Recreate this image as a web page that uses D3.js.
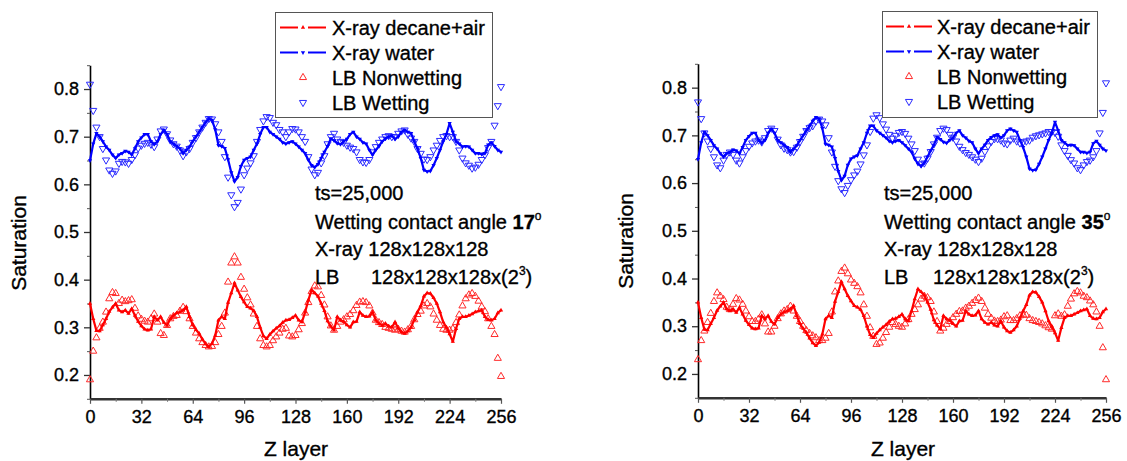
<!DOCTYPE html>
<html><head><meta charset="utf-8">
<script src="https://cdn.jsdelivr.net/npm/d3@7"></script>
<style>
body{margin:0;background:#fff}
svg{display:block}
text{font-family:"Liberation Sans",Arial,Helvetica,sans-serif;fill:#000;stroke:#000;stroke-width:0.35px}
</style>
</head><body>
<svg id="chart" width="1127" height="461"></svg>
<script>
// ---------- data ----------
const zXray = d3.range(0, 257, 2);   // X-ray slices (128^3 -> every 2nd Z layer)
const zLB   = d3.range(0, 257, 2);   // LB layers shown

const xrayDecaneAir = [
0.350,0.318,0.293,0.292,0.305,0.318,0.333,0.342,
0.350,0.336,0.332,0.336,0.329,0.339,0.325,0.312,
0.303,0.296,0.294,0.296,0.322,0.315,0.322,0.310,
0.304,0.318,0.325,0.330,0.332,0.336,0.343,0.322,
0.305,0.295,0.287,0.275,0.265,0.259,0.266,0.283,
0.315,0.322,0.318,0.352,0.372,0.393,0.378,0.364,
0.353,0.343,0.340,0.335,0.322,0.300,0.282,0.276,
0.285,0.292,0.298,0.303,0.310,0.315,0.316,0.320,
0.325,0.315,0.311,0.332,0.357,0.378,0.372,0.365,
0.350,0.335,0.313,0.302,0.294,0.322,0.315,0.312,
0.305,0.300,0.311,0.312,0.332,0.325,0.322,0.323,
0.332,0.315,0.308,0.304,0.308,0.302,0.300,0.311,
0.298,0.290,0.287,0.292,0.300,0.316,0.332,0.345,
0.365,0.372,0.371,0.362,0.350,0.332,0.311,0.300,
0.286,0.270,0.297,0.318,0.322,0.322,0.325,0.328,
0.332,0.334,0.336,0.322,0.316,0.315,0.318,0.330,
0.336];

const xrayWater = [
0.650,0.685,0.707,0.700,0.690,0.679,0.672,0.662,
0.655,0.662,0.665,0.670,0.668,0.662,0.675,0.690,
0.698,0.705,0.705,0.690,0.684,0.690,0.705,0.714,
0.705,0.690,0.685,0.680,0.675,0.665,0.672,0.679,
0.690,0.700,0.710,0.720,0.730,0.738,0.735,0.715,
0.682,0.680,0.676,0.652,0.625,0.606,0.615,0.638,
0.651,0.655,0.658,0.672,0.685,0.705,0.720,0.720,
0.710,0.705,0.700,0.695,0.688,0.685,0.688,0.690,
0.685,0.679,0.672,0.665,0.651,0.640,0.636,0.642,
0.655,0.668,0.680,0.696,0.692,0.686,0.684,0.690,
0.695,0.705,0.710,0.700,0.695,0.688,0.685,0.672,
0.662,0.672,0.680,0.690,0.696,0.700,0.702,0.695,
0.700,0.710,0.714,0.710,0.707,0.690,0.675,0.655,
0.630,0.627,0.628,0.640,0.655,0.672,0.690,0.705,
0.728,0.710,0.690,0.685,0.679,0.680,0.679,0.672,
0.665,0.665,0.663,0.665,0.683,0.688,0.680,0.672,
0.668];

const lbWetting17 = [
0.810,0.755,0.720,0.700,0.675,0.651,0.630,0.623,
0.628,0.644,0.648,0.647,0.644,0.652,0.662,0.676,
0.682,0.686,0.688,0.684,0.679,0.695,0.712,0.716,
0.706,0.693,0.685,0.680,0.672,0.660,0.668,0.675,
0.688,0.698,0.710,0.720,0.730,0.738,0.737,0.727,
0.710,0.690,0.658,0.615,0.578,0.553,0.562,0.590,
0.620,0.634,0.645,0.660,0.690,0.715,0.733,0.742,
0.740,0.730,0.725,0.715,0.710,0.700,0.710,0.717,
0.716,0.710,0.700,0.690,0.658,0.632,0.620,0.625,
0.645,0.660,0.685,0.700,0.707,0.695,0.690,0.688,
0.682,0.678,0.675,0.668,0.652,0.647,0.646,0.652,
0.668,0.679,0.688,0.695,0.700,0.702,0.700,0.700,
0.707,0.712,0.714,0.705,0.697,0.690,0.675,0.665,
0.653,0.652,0.658,0.672,0.682,0.692,0.700,0.702,
0.700,0.700,0.690,0.672,0.655,0.645,0.640,0.634,
0.636,0.642,0.652,0.662,0.677,0.690,0.724,0.765,
0.805];

const lbNonwetting17 = [
0.190,0.250,0.278,0.298,0.311,0.332,0.360,0.373,
0.371,0.350,0.357,0.354,0.356,0.358,0.340,0.324,
0.317,0.313,0.311,0.318,0.328,0.311,0.287,0.283,
0.304,0.318,0.323,0.325,0.334,0.342,0.333,0.318,
0.302,0.288,0.276,0.268,0.262,0.259,0.260,0.268,
0.285,0.302,0.330,0.395,0.435,0.448,0.435,0.405,
0.380,0.362,0.347,0.328,0.302,0.276,0.262,0.259,
0.262,0.272,0.280,0.288,0.296,0.298,0.282,0.280,
0.283,0.295,0.308,0.330,0.352,0.375,0.387,0.385,
0.367,0.347,0.322,0.303,0.294,0.302,0.311,0.316,
0.322,0.327,0.335,0.346,0.353,0.354,0.352,0.345,
0.330,0.315,0.310,0.306,0.300,0.298,0.296,0.294,
0.296,0.292,0.290,0.295,0.302,0.316,0.327,0.334,
0.345,0.350,0.343,0.328,0.315,0.304,0.296,0.294,
0.294,0.297,0.310,0.326,0.345,0.360,0.368,0.371,
0.365,0.355,0.343,0.333,0.318,0.302,0.285,0.235,
0.197];

const lbWetting35 = [
0.770,0.735,0.705,0.688,0.672,0.655,0.638,0.632,
0.648,0.660,0.665,0.660,0.648,0.642,0.655,0.668,
0.677,0.684,0.688,0.690,0.686,0.695,0.710,0.715,
0.710,0.692,0.680,0.673,0.670,0.665,0.666,0.675,
0.687,0.698,0.710,0.716,0.720,0.730,0.734,0.730,
0.722,0.695,0.665,0.635,0.605,0.588,0.580,0.595,
0.607,0.617,0.625,0.640,0.659,0.680,0.708,0.736,
0.743,0.737,0.724,0.713,0.702,0.694,0.700,0.706,
0.708,0.704,0.694,0.682,0.668,0.650,0.640,0.642,
0.652,0.666,0.682,0.696,0.710,0.715,0.712,0.702,
0.696,0.688,0.677,0.670,0.664,0.660,0.655,0.650,
0.645,0.652,0.666,0.678,0.687,0.693,0.693,0.690,
0.684,0.682,0.690,0.694,0.688,0.684,0.686,0.688,
0.690,0.696,0.699,0.701,0.703,0.705,0.708,0.708,
0.706,0.698,0.680,0.668,0.658,0.649,0.642,0.632,
0.628,0.638,0.645,0.648,0.655,0.668,0.705,0.748,
0.810];

const lbNonwetting35 = [
0.230,0.270,0.290,0.308,0.327,0.352,0.370,0.363,
0.356,0.340,0.335,0.346,0.358,0.355,0.346,0.332,
0.320,0.310,0.310,0.315,0.324,0.305,0.288,0.288,
0.300,0.316,0.326,0.332,0.335,0.342,0.332,0.321,
0.310,0.300,0.291,0.285,0.280,0.276,0.270,0.270,
0.275,0.285,0.330,0.372,0.395,0.415,0.422,0.410,
0.397,0.390,0.383,0.370,0.345,0.321,0.297,0.279,
0.262,0.265,0.275,0.287,0.298,0.308,0.304,0.300,
0.298,0.305,0.314,0.325,0.335,0.345,0.357,0.363,
0.360,0.352,0.330,0.310,0.290,0.296,0.304,0.310,
0.318,0.325,0.331,0.332,0.338,0.342,0.348,0.354,
0.359,0.352,0.338,0.325,0.317,0.311,0.310,0.313,
0.320,0.322,0.312,0.312,0.316,0.322,0.324,0.323,
0.316,0.312,0.310,0.308,0.305,0.301,0.297,0.294,
0.322,0.326,0.321,0.324,0.342,0.357,0.368,0.373,
0.370,0.363,0.360,0.353,0.345,0.330,0.300,0.255,
0.188];

const xTicks = [0, 32, 64, 96, 128, 160, 192, 224, 256];
const xMinorTicks = [16, 48, 80, 112, 144, 176, 208, 240];
const yTicks = [0.2, 0.3, 0.4, 0.5, 0.6, 0.7, 0.8];
const yMinorTicks = [0.15, 0.25, 0.35, 0.45, 0.55, 0.65, 0.75, 0.85];
const legendLabels = ["X-ray decane+air", "X-ray water", "LB Nonwetting", "LB Wetting"];
const contactAngles = ["17", "35"];

// ---------- layout ----------
const RED = "#ff0000", BLUE = "#0000ff", LBRED = "#ff2a2a", LBBLUE = "#2a2aff";
const svg = d3.select("#chart");

const panels = [
  {x0: 90, x1: 501, yb: 398.8, yt: 65.2, nonwet: lbNonwetting17, wet: lbWetting17, angle: contactAngles[0],
   leg: {x: 275.5, y: 12.5, w: 217, h: 105, sx: 280, tx: 332},
   ann: {x: 315, x2: 371}, ylab: {x: 26, y: 243}, xlab: {x: 296, y: 456}},
  {x0: 698, x1: 1106, yb: 397.8, yt: 63.8, nonwet: lbNonwetting35, wet: lbWetting35, angle: contactAngles[1],
   leg: {x: 882.5, y: 11.5, w: 215, h: 106, sx: 886, tx: 937},
   ann: {x: 884, x2: 933}, ylab: {x: 633, y: 241}, xlab: {x: 903, y: 456}}
];

const triUp = d3.symbol().type(d3.symbolTriangle).size(22);
const triSmall = d3.symbol().type(d3.symbolTriangle).size(8);

panels.forEach(p => {
  const x = d3.scaleLinear().domain([0, 256]).range([p.x0, p.x1]);
  const y = d3.scaleLinear().domain([0.15, 0.85]).range([p.yb, p.yt]);
  const g = svg.append("g");

  // axes
  const yAxis = g.append("g").attr("transform", `translate(${p.x0},0)`)
    .call(d3.axisLeft(y).tickValues(yTicks).tickFormat(d3.format(".1f")).tickSize(6).tickSizeOuter(0).tickPadding(5));
  yAxis.select(".domain").attr("stroke", "#000").attr("stroke-width", 1.6);
  yAxis.selectAll(".tick line").attr("stroke", "#333").attr("stroke-width", 1.3);
  yAxis.selectAll("text").style("font-size", "18px");
  g.append("g").attr("transform", `translate(${p.x0},0)`)
    .call(d3.axisLeft(y).tickValues(yMinorTicks).tickFormat("").tickSize(3).tickSizeOuter(0))
    .call(s => { s.select(".domain").remove(); s.selectAll("line").attr("stroke", "#555"); });

  const xAxis = g.append("g").attr("transform", `translate(0,${p.yb})`)
    .call(d3.axisBottom(x).tickValues(xTicks).tickSize(5).tickSizeOuter(0).tickPadding(6));
  xAxis.select(".domain").attr("stroke", "#333").attr("stroke-width", 2.6);
  xAxis.selectAll(".tick line").attr("stroke", "#555").attr("stroke-width", 1.2);
  xAxis.selectAll("text").style("font-size", "18px");
  g.append("g").attr("transform", `translate(0,${p.yb})`)
    .call(d3.axisBottom(x).tickValues(xMinorTicks).tickFormat("").tickSize(3).tickSizeOuter(0))
    .call(s => { s.select(".domain").remove(); s.selectAll("line").attr("stroke", "#777"); });

  // axis titles
  g.append("text").attr("transform", `translate(${p.ylab.x},${p.ylab.y}) rotate(-90)`)
    .attr("text-anchor", "middle").style("font-size", "21px").text("Saturation");
  g.append("text").attr("x", p.xlab.x).attr("y", p.xlab.y)
    .attr("text-anchor", "middle").style("font-size", "21px").text("Z layer");

  // LB markers (hollow triangles)
  g.append("g").selectAll("path").data(zLB.map((z, i) => [z, p.nonwet[i]])).join("path")
    .attr("d", triUp).attr("transform", d => `translate(${x(d[0])},${y(d[1])})`)
    .attr("fill", "none").attr("stroke", LBRED).attr("stroke-width", 1);
  g.append("g").selectAll("path").data(zLB.map((z, i) => [z, p.wet[i]])).join("path")
    .attr("d", triUp).attr("transform", d => `translate(${x(d[0])},${y(d[1])}) rotate(180)`)
    .attr("fill", "none").attr("stroke", LBBLUE).attr("stroke-width", 1);

  // X-ray lines with small markers
  const line = d3.line().x(d => x(d[0])).y(d => y(d[1]));
  [[xrayDecaneAir, RED, 0], [xrayWater, BLUE, 180]].forEach(([vals, col, rot]) => {
    const pts = zXray.map((z, i) => [z, vals[i]]);
    g.append("path").datum(pts).attr("d", line).attr("fill", "none")
      .attr("stroke", col).attr("stroke-width", 2.2).attr("stroke-linejoin", "round");
    g.append("g").selectAll("path").data(pts).join("path")
      .attr("d", triSmall).attr("transform", d => `translate(${x(d[0])},${y(d[1])}) rotate(${rot})`)
      .attr("fill", col);
  });

  // annotation text
  const fs = "20px";
  const a = p.ann;
  g.append("text").attr("x", a.x).attr("y", 200).style("font-size", fs).text("ts=25,000");
  const t2 = g.append("text").attr("x", a.x).attr("y", 229).style("font-size", fs);
  t2.append("tspan").text("Wetting contact angle ");
  t2.append("tspan").style("font-weight", "bold").text(p.angle);
  t2.append("tspan").attr("dy", -9).style("font-size", "12px").text("o");
  g.append("text").attr("x", a.x).attr("y", 256).style("font-size", fs).text("X-ray 128x128x128");
  g.append("text").attr("x", a.x).attr("y", 284).style("font-size", fs).text("LB");
  const t4 = g.append("text").attr("x", a.x2).attr("y", 284).style("font-size", fs);
  t4.append("tspan").text("128x128x128x(2");
  t4.append("tspan").attr("dy", -9).style("font-size", "12px").text("3");
  t4.append("tspan").attr("dy", 9).text(")");

  // legend
  const L = p.leg;
  const lg = g.append("g");
  lg.append("rect").attr("x", L.x).attr("y", L.y).attr("width", L.w).attr("height", L.h)
    .attr("fill", "#fff").attr("stroke", "#555").attr("stroke-width", 1);
  const rowY = [L.y + 15, L.y + 40, L.y + 65, L.y + 90];
  const cx = L.sx + 23;
  [[RED, 0], [BLUE, 180]].forEach(([col, rot], i) => {
    lg.append("line").attr("x1", L.sx).attr("x2", cx - 5).attr("y1", rowY[i]).attr("y2", rowY[i])
      .attr("stroke", col).attr("stroke-width", 2);
    lg.append("line").attr("x1", cx + 5).attr("x2", L.sx + 46).attr("y1", rowY[i]).attr("y2", rowY[i])
      .attr("stroke", col).attr("stroke-width", 2);
    lg.append("path").attr("d", triSmall).attr("transform", `translate(${cx},${rowY[i]}) rotate(${rot})`)
      .attr("fill", col);
  });
  lg.append("path").attr("d", triUp).attr("transform", `translate(${cx},${rowY[2]})`)
    .attr("fill", "none").attr("stroke", LBRED).attr("stroke-width", 1);
  lg.append("path").attr("d", triUp).attr("transform", `translate(${cx},${rowY[3]}) rotate(180)`)
    .attr("fill", "none").attr("stroke", LBBLUE).attr("stroke-width", 1);
  legendLabels.forEach((lab, i) => {
    lg.append("text").attr("x", L.tx).attr("y", rowY[i]).attr("dy", "0.35em")
      .style("font-size", "20px").text(lab);
  });
});
</script>
</body></html>
